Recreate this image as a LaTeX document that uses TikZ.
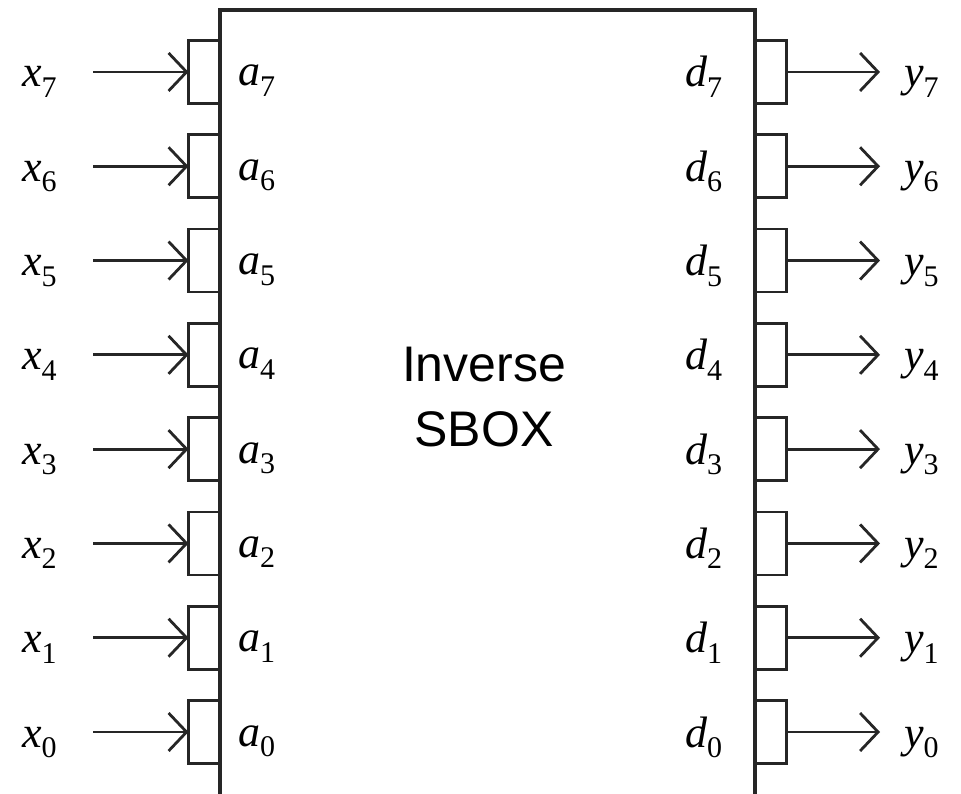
\documentclass[tikz,border=0pt]{standalone}
\usepackage{fontspec}
\setmainfont{Liberation Serif}
\newfontfamily\sansf{Liberation Sans}
\usetikzlibrary{arrows.meta}
\newcommand\sbs[1]{\raisebox{-0.24em}{\fontsize{30}{30}\selectfont\upshape #1}}
\begin{document}
\begin{tikzpicture}[x=1pt,y=-1pt,
  wire/.style={line width=2.8pt, draw=black!85},
  pinbox/.style={draw=black!85, line width=2.8pt, minimum width=31pt, minimum height=63pt, inner sep=0pt, outer sep=0pt},
  lbl/.style={anchor=base west, inner sep=0pt, font=\fontsize{44}{44}\selectfont\itshape},
  sig/.style={wire, -{Straight Barb[length=18pt,width=38pt,line width=2.8pt]}},
  title/.style={inner sep=0pt, align=center, font=\sansf\fontsize{50}{65}\selectfont}]
\useasboundingbox (0,0) rectangle (961,794);
\draw[wire, line width=3.2pt] (220,800) -- (220,10) -- (755,10) -- (755,800);
\node[title] (t) at (484,397.5) {Inverse\\SBOX};
\foreach \i in {0,...,7} {
  \pgfmathsetmacro\cy{732-94.29*\i}
  \node[pinbox] (pa\i) at (204,\cy) {};
  \node[pinbox] (pd\i) at (771,\cy) {};
  \node[lbl] (x\i) at (22,\cy+15) {x\sbs{\i}};
  \node[lbl] (a\i) at (238,\cy+14) {a\sbs{\i}};
  \node[lbl] (d\i) at (685,\cy+15) {d\sbs{\i}};
  \node[lbl] (y\i) at (904,\cy+15) {y\sbs{\i}};
  \coordinate (xs\i) at (93,\cy);
  \coordinate (ye\i) at (880,\cy);
  \draw[sig] (xs\i) -- (pa\i.west);
  \draw[sig] (pd\i.east) -- (ye\i);
}
\end{tikzpicture}
\end{document}
